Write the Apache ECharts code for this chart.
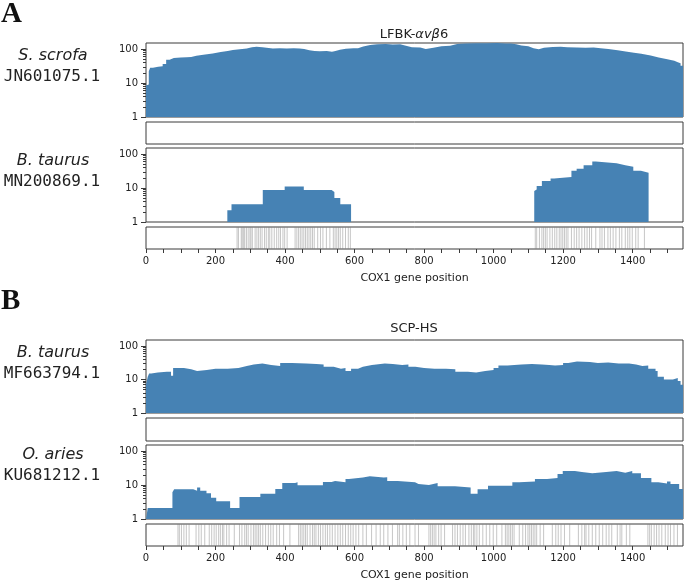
<!DOCTYPE html>
<html>
<head>
<meta charset="utf-8">
<script src="https://cdn.jsdelivr.net/npm/echarts@6/dist/echarts.min.js"></script>
<style>
  html, body { margin: 0; padding: 0; background: #fff; }
  #main { width: 685px; height: 583px; }
</style>
</head>
<body>
<div id="main"></div>
<script>
// gene length (x axis max) and tick positions
const GENE_LEN = 1545
const xTickValues = [0, 50, 100, 150, 200, 250, 300, 350, 400, 450, 500, 550, 600, 650, 700, 750, 800, 850, 900, 950, 1000, 1050, 1100, 1150, 1200, 1250, 1300, 1350, 1400, 1450, 1500]
const xLabelValues = [0, 200, 400, 600, 800, 1000, 1200, 1400]
const yLabelValues = [1, 10, 100]
const yMinorValues = [2, 3, 4, 5, 6, 7, 8, 9, 20, 30, 40, 50, 60, 70, 80, 90]

// coverage depth, [position, depth] step breakpoints (0 = no reads)
const covScrofa = [[0, 8.5], [4, 9], [8, 22], [12, 28], [20, 30], [35, 31], [48, 36], [58, 48], [68, 54], [80, 56], [100, 57], [117, 58], [130, 63], [145, 68], [165, 74], [192, 82], [215, 88], [235, 93], [250, 98], [270, 104], [290, 112], [305, 116], [318, 113], [335, 108], [347, 104], [365, 106], [385, 104], [405, 106], [425, 104], [442, 100], [455, 92], [470, 88], [485, 86], [500, 87], [520, 83], [535, 88], [545, 95], [558, 102], [575, 106], [597, 105], [610, 118], [625, 132], [645, 137], [665, 139], [690, 136], [710, 138], [731, 126], [745, 112], [765, 110], [789, 100], [805, 108], [827, 120], [850, 124], [875, 140], [895, 146], [920, 148], [950, 147], [980, 149], [1010, 146], [1035, 144], [1050, 138], [1065, 126], [1080, 120], [1100, 106], [1115, 98], [1130, 108], [1145, 114], [1170, 116], [1193, 112], [1212, 110], [1240, 109], [1265, 111], [1288, 106], [1308, 100], [1330, 92], [1357, 85], [1380, 78], [1404, 72], [1425, 64], [1452, 56], [1475, 50], [1500, 45], [1520, 41], [1530, 38], [1538, 32], [1545, 27]]
const covTaurusA = [[0, 0], [234, 2.2], [246, 3.3], [336, 8.7], [399, 11], [454, 8.7], [534, 7.6], [542, 5.1], [559, 3.3], [590, 0], [1117, 8.1], [1121, 9], [1124, 11.5], [1139, 16], [1164, 19], [1174, 21], [1224, 32], [1239, 37], [1259, 47], [1284, 60], [1294, 53], [1354, 47], [1379, 42], [1402, 32], [1424, 28], [1446, 0], [1545, 0]]
const covTaurusB = [[0, 7], [5, 12], [9, 15], [15, 16], [34, 17], [60, 17], [72, 13], [78, 22], [95, 22], [109, 20], [130, 18], [147, 19], [175, 21], [200, 21], [235, 22], [266, 25], [290, 28], [310, 30], [335, 27], [360, 25], [386, 31], [420, 30], [461, 29], [490, 28], [511, 24], [540, 21], [561, 22], [574, 18], [590, 21], [610, 24], [624, 27], [650, 30], [687, 29], [710, 27], [737, 28], [755, 24], [775, 22], [800, 21], [830, 21], [863, 20], [890, 17], [926, 16], [950, 18], [976, 19], [1000, 22], [1014, 26], [1040, 28], [1080, 29], [1110, 28], [1139, 27], [1160, 26], [1177, 27], [1200, 31], [1215, 34], [1240, 33], [1277, 31], [1300, 32], [1330, 30], [1360, 30], [1390, 28], [1410, 25], [1428, 26], [1445, 21], [1466, 18], [1472, 12], [1490, 10], [1505, 10], [1516, 11], [1530, 9], [1538, 7], [1545, 6]]
const covAries = [[0, 0], [5, 2.1], [76, 6.1], [81, 7.5], [136, 6.8], [147, 8.5], [156, 6.8], [174, 5.7], [187, 4.2], [202, 3.3], [242, 2.1], [269, 4.4], [329, 5.5], [372, 7.6], [392, 11.4], [429, 12], [436, 9.8], [509, 12.2], [534, 13], [544, 12], [574, 15], [584, 16.7], [624, 18], [644, 16.7], [684, 17], [694, 13], [724, 12], [774, 10.7], [784, 10], [814, 11.4], [839, 9.2], [889, 8.5], [934, 5.5], [954, 7.5], [984, 9.5], [1054, 12], [1074, 12.7], [1119, 15], [1154, 16], [1184, 21], [1199, 26], [1234, 24], [1254, 22], [1284, 24], [1324, 26], [1354, 23], [1379, 26], [1399, 22], [1424, 16], [1454, 12], [1474, 11], [1499, 12.7], [1509, 10.7], [1534, 7.6], [1545, 7.6]]

// variant positions shown in the strips
const varA = [262, 266, 274, 277, 281, 284, 289, 294, 299, 302, 306, 314, 319, 324, 329, 334, 341, 346, 352, 356, 362, 369, 376, 382, 387, 394, 399, 406, 429, 434, 439, 444, 449, 454, 459, 464, 469, 474, 479, 484, 494, 502, 509, 519, 529, 539, 544, 549, 554, 559, 566, 574, 582, 588,
  1120, 1124, 1132, 1139, 1144, 1149, 1154, 1162, 1169, 1176, 1182, 1189, 1194, 1199, 1204, 1209, 1214, 1224, 1232, 1239, 1246, 1254, 1262, 1269, 1276, 1282, 1294, 1306, 1312, 1319, 1329, 1336, 1344, 1352, 1362, 1369, 1379, 1386, 1392, 1399, 1409, 1416, 1434]
const varB = [92, 96, 102, 109, 116, 124, 144, 152, 159, 169, 182, 189, 196, 202, 209, 214, 220, 224, 232, 239, 254, 269, 276, 284, 289, 294, 302, 309, 314, 319, 324, 329, 336, 344, 352, 359, 366, 376, 384, 396, 414, 439, 444, 449, 454, 459, 464, 472, 479, 484, 489, 496, 502, 509, 516, 522, 529, 536, 544, 552, 559, 566, 574, 582, 589, 596, 604, 612, 624, 634, 649, 662, 674, 684, 696, 709, 724, 729, 739, 749, 759, 774, 784, 814, 819, 824, 829, 834, 842, 849, 859, 882, 889, 896, 904, 912, 919, 929, 936, 942, 946, 952, 959, 969, 979, 989, 999, 1009, 1024, 1034, 1039, 1044, 1049, 1054, 1059, 1074, 1084, 1092, 1099, 1104, 1109, 1114, 1119, 1124, 1134, 1144, 1169, 1179, 1186, 1194, 1204, 1219, 1244, 1254, 1262, 1266, 1274, 1284, 1294, 1304, 1314, 1324, 1332, 1340, 1356, 1364, 1369, 1382, 1392, 1444, 1449, 1454, 1462, 1469, 1476, 1484, 1494, 1502, 1509, 1519, 1529]

const Y_MAX = 150
const BLUE = '#4682b4'
const FRAME = '#3a3a3a'
const FONT = 'DejaVu Sans'

// [top, height] of each panel row; kinds: cov / empty / strip
const rows = [
  { top: 43, height: 74, kind: 'cov', data: covScrofa },
  { top: 122, height: 22, kind: 'empty' },
  { top: 148, height: 74, kind: 'cov', data: covTaurusA },
  { top: 227, height: 22, kind: 'strip', data: varA },
  { top: 340, height: 73, kind: 'cov', data: covTaurusB },
  { top: 418, height: 23, kind: 'empty' },
  { top: 445, height: 74, kind: 'cov', data: covAries },
  { top: 524, height: 22, kind: 'strip', data: varB }
]

const grid = [], xAxis = [], yAxis = [], series = []
rows.forEach((r, i) => {
  grid.push({ left: 146, right: 2, top: r.top, height: r.height, show: true, borderColor: FRAME, borderWidth: 1, backgroundColor: '#fff' })
  const isStrip = r.kind === 'strip'
  xAxis.push({
    type: 'value', gridIndex: i, min: 0, max: GENE_LEN, show: isStrip,
    axisLine: { show: false }, splitLine: { show: false },
    axisTick: { show: isStrip, length: 4, customValues: xTickValues, lineStyle: { color: FRAME } },
    axisLabel: { show: isStrip, customValues: xLabelValues, formatter: v => String(v), fontSize: 10, fontFamily: FONT, color: '#222', margin: 7 },
    name: isStrip ? 'COX1 gene position' : '', nameLocation: 'middle', nameGap: 24,
    nameTextStyle: { fontSize: 11, fontFamily: FONT, color: '#222' }
  })
  if (r.kind === 'cov') {
    const yi = yAxis.length
    yAxis.push({
      type: 'log', gridIndex: i, min: 1, max: Y_MAX, position: 'left',
      axisLine: { show: false }, splitLine: { show: false },
      axisTick: { length: 5, customValues: yLabelValues, lineStyle: { color: FRAME } },
      axisLabel: { customValues: yLabelValues, formatter: v => String(v), fontSize: 10, fontFamily: FONT, color: '#222', margin: 8 }
    })
    // second axis only for the log minor ticks
    yAxis.push({
      type: 'log', gridIndex: i, min: 1, max: Y_MAX, position: 'left',
      axisLine: { show: false }, splitLine: { show: false }, axisLabel: { show: false },
      axisTick: { length: 3, customValues: yMinorValues, lineStyle: { color: FRAME } }
    })
    series.push({
      type: 'line', xAxisIndex: i, yAxisIndex: yi, step: 'end', symbol: 'none', silent: true,
      data: r.data.map(d => [d[0], d[1] > 0 ? d[1] : 1]),
      lineStyle: { width: 0 },
      areaStyle: { color: BLUE, opacity: 1, origin: 'start' }
    })
  } else {
    const yi = yAxis.length
    yAxis.push({ type: 'value', gridIndex: i, min: 0, max: 1, show: false })
    if (isStrip) {
      series.push({
        type: 'custom', xAxisIndex: i, yAxisIndex: yi, silent: true,
        data: r.data,
        renderItem: (params, api) => {
          const p0 = api.coord([api.value(0), 0])
          const p1 = api.coord([api.value(0), 1])
          return {
            type: 'line',
            shape: { x1: p0[0], y1: p0[1], x2: p1[0], y2: p1[1] },
            style: { stroke: 'rgba(128,128,128,0.45)', lineWidth: 1 }
          }
        }
      })
    }
  }
})

// left-hand sample labels (species name + accession)
function sampleLabel(y, species, acc) {
  return [
    { type: 'text', x: 53, y: y, style: { text: species, font: 'italic 16px "DejaVu Sans"', fill: '#222', textAlign: 'center', textVerticalAlign: 'middle' } },
    { type: 'text', x: 52, y: y + 21, style: { text: acc, font: '16px "DejaVu Sans Mono"', fill: '#222', textAlign: 'center', textVerticalAlign: 'middle' } }
  ]
}

const graphic = [
  { type: 'text', left: 1, top: 0, style: { text: 'A', font: 'bold 29px "Liberation Serif"', fill: '#111' } },
  { type: 'text', left: 1, top: 287, style: { text: 'B', font: 'bold 29px "Liberation Serif"', fill: '#111' } },
  {
    type: 'text', x: 414, y: 35,
    style: {
      text: '{a|LFBK-}{b|αvβ}{a|6}', textAlign: 'center', textVerticalAlign: 'middle',
      rich: { a: { fontSize: 13, fontFamily: FONT, fill: '#222' }, b: { fontSize: 13, fontFamily: FONT, fontStyle: 'italic', fill: '#222' } }
    }
  },
  { type: 'text', x: 414, y: 329, style: { text: 'SCP-HS', font: '13px "DejaVu Sans"', fill: '#222', textAlign: 'center', textVerticalAlign: 'middle' } }
].concat(
  sampleLabel(56, 'S. scrofa', 'JN601075.1'),
  sampleLabel(161, 'B. taurus', 'MN200869.1'),
  sampleLabel(353, 'B. taurus', 'MF663794.1'),
  sampleLabel(455, 'O. aries', 'KU681212.1')
)

const chart = echarts.init(document.getElementById('main'))
chart.setOption({
  animation: false,
  grid, xAxis, yAxis, series, graphic
})
</script>
</body>
</html>
